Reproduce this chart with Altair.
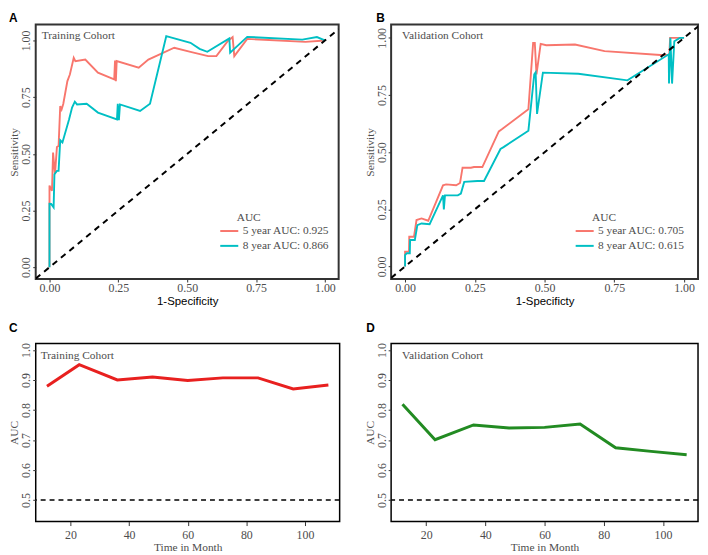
import altair as alt
import pandas as pd

# ---------------- data ----------------
# Panel A (training cohort ROC)
a5_x = [0, 0, 0.009, 0.013, 0.02, 0.027, 0.033, 0.039, 0.044, 0.05, 0.065, 0.074, 0.088, 0.094, 0.13, 0.176,
        0.235, 0.238, 0.241, 0.244, 0.324, 0.359, 0.453, 0.512, 0.576, 0.606, 0.647, 0.665, 0.671, 0.718, 0.929, 1.0]
a5_y = [0, 0.36, 0.337, 0.506, 0.41, 0.53, 0.535, 0.711, 0.696, 0.72, 0.821, 0.85, 0.924, 0.909, 0.916, 0.858,
        0.828, 0.912, 0.82, 0.909, 0.88, 0.916, 0.968, 0.95, 0.931, 0.931, 0.997, 1.015, 0.931, 1.007, 0.994, 1.0]
a8_x = [0, 0, 0.006, 0.015, 0.018, 0.027, 0.033, 0.039, 0.047, 0.071, 0.082, 0.092, 0.1, 0.135, 0.176, 0.245,
        0.248, 0.252, 0.256, 0.329, 0.365, 0.424, 0.512, 0.545, 0.573, 0.653, 0.656, 0.662, 0.718, 0.918, 0.971, 1.0]
a8_y = [0, 0.28, 0.279, 0.264, 0.41, 0.425, 0.425, 0.56, 0.55, 0.652, 0.704, 0.73, 0.718, 0.721, 0.682, 0.652,
        0.721, 0.648, 0.718, 0.689, 0.721, 1.019, 0.99, 0.963, 0.95, 1.009, 0.946, 0.953, 1.016, 1.004, 1.015, 1.0]
a_labels = ["5 year AUC: 0.925", "8 year AUC: 0.866"]

# Panel B (validation cohort ROC)
b5_x = [0, 0, 0.014, 0.015, 0.032, 0.041, 0.059, 0.083, 0.136, 0.147, 0.183, 0.197, 0.206, 0.236, 0.247, 0.277,
        0.336, 0.348, 0.442, 0.459, 0.465, 0.471, 0.486, 0.506, 0.609, 0.715, 0.915, 0.947, 0.95, 0.975, 1.0]
b5_y = [0, 0.065, 0.065, 0.13, 0.13, 0.203, 0.21, 0.2, 0.355, 0.359, 0.355, 0.365, 0.432, 0.432, 0.435, 0.435,
        0.591, 0.601, 0.688, 0.978, 0.978, 0.84, 0.974, 0.968, 0.971, 0.942, 0.925, 0.925, 1.0, 1.0, 1.0]
b8_x = [0, 0, 0.006, 0.017, 0.018, 0.035, 0.044, 0.059, 0.088, 0.136, 0.139, 0.143, 0.189, 0.2, 0.212, 0.259,
        0.283, 0.342, 0.353, 0.442, 0.463, 0.468, 0.473, 0.494, 0.621, 0.797, 0.945, 0.946, 0.951, 0.957, 0.965,
        0.985, 1.0]
b8_y = [0, 0.05, 0.058, 0.058, 0.116, 0.116, 0.181, 0.188, 0.185, 0.311, 0.249, 0.311, 0.311, 0.319, 0.37, 0.374,
        0.374, 0.514, 0.522, 0.594, 0.84, 0.849, 0.667, 0.848, 0.843, 0.814, 0.928, 0.80, 1.0, 0.80, 0.985,
        1.0, 1.0]
b_labels = ["5 year AUC: 0.705", "8 year AUC: 0.615"]

diag = [-0.05, 1.05]
roc_ticks = [0, 0.25, 0.5, 0.75, 1.0]

# Panels C / D (time-dependent AUC)
times = [12, 23, 36, 48, 60, 72, 84, 96, 108]
c_auc = [0.879, 0.951, 0.90, 0.91, 0.898, 0.907, 0.907, 0.87, 0.883]
d_auc = [0.819, 0.701, 0.75, 0.74, 0.742, 0.753, 0.674, 0.662, 0.651]
time_ticks = [20, 40, 60, 80, 100]
auc_ticks = [0.5, 0.6, 0.7, 0.8, 0.9, 1.0]

# ---------------- style ----------------
SERIF = "Liberation Serif"
SANS = "Liberation Sans"
GRAY = "#4D4D4D"
RED = "#F8766D"
CYAN = "#00BFC4"


def roc_panel(letter, title_dx, cohort, text_x, x5, y5, x8, y8, labels, xtitle, ydom, width):
    df = pd.concat([
        pd.DataFrame({"fpr": x5, "tpr": y5, "curve": labels[0], "ord": list(range(len(x5)))}),
        pd.DataFrame({"fpr": x8, "tpr": y8, "curve": labels[1], "ord": list(range(len(x8)))}),
    ])
    xsc = alt.Scale(domain=[-0.05, 1.05], nice=False, zero=False)
    ysc = alt.Scale(domain=ydom, nice=False, zero=False)
    lines = alt.Chart(df).mark_line(strokeWidth=1.9, clip=True).encode(
        x=alt.X("fpr:Q", scale=xsc,
                axis=alt.Axis(values=roc_ticks, format=".2f", title=xtitle, titleFont=SANS,
                              titleColor="black", titleFontSize=11.5, titlePadding=2, labelPadding=1)),
        y=alt.Y("tpr:Q", scale=ysc,
                axis=alt.Axis(values=roc_ticks, format=".2f", title="Sensitivity", labelAngle=270,
                              labelAlign="center", labelBaseline="bottom", labelPadding=0, titlePadding=0,
                              labelOverlap=False)),
        color=alt.Color("curve:N", scale=alt.Scale(domain=labels, range=[RED, CYAN]),
                        legend=alt.Legend(title=None, orient="none", legendX=188, legendY=201,
                                          symbolType="M-1.4,0L1.4,0", symbolStrokeWidth=2, symbolSize=169,
                                          labelFont=SERIF, labelFontSize=11.5,
                                          labelColor=GRAY, rowPadding=2, labelOffset=6)),
        order="ord:Q",
    )
    dline = alt.Chart(pd.DataFrame({"fpr": diag, "tpr": diag})).mark_line(
        color="black", strokeDash=[6, 5], strokeWidth=2, clip=True).encode(x="fpr:Q", y="tpr:Q")
    txt = alt.Chart(pd.DataFrame({"t": [cohort]})).mark_text(
        align="left", baseline="middle", font=SERIF, fontSize=11.5, color=GRAY).encode(
        text="t:N", x=alt.value(text_x), y=alt.value(12))
    leg_title = alt.Chart(pd.DataFrame({"t": ["AUC"]})).mark_text(
        align="left", baseline="middle", font=SERIF, fontSize=11.5, color=GRAY).encode(
        text="t:N", x=alt.value(203), y=alt.value(195))
    return alt.layer(lines, dline, txt, leg_title).properties(
        width=width, height=257,
        title=alt.TitleParams(letter, anchor="start", dx=title_dx, offset=0, font=SANS,
                              fontWeight="bold", fontSize=12, color="black"),
        view=alt.ViewBackground(stroke="#333333", strokeWidth=2),
    )


def auc_panel(letter, title_dx, cohort, text_x, vals, color, width):
    df = pd.DataFrame({"time": times, "auc": vals})
    yenc = alt.Y("auc:Q", scale=alt.Scale(domain=[0.428, 1.022], nice=False, zero=False),
                 axis=alt.Axis(values=auc_ticks, format=".1f", title="AUC", labelAngle=270,
                               labelAlign="center", labelBaseline="bottom", labelPadding=0,
                               titlePadding=0, labelOverlap=False))
    line = alt.Chart(df).mark_line(color=color, strokeWidth=3).encode(
        x=alt.X("time:Q", scale=alt.Scale(domain=[8.16, 111.84], nice=False, zero=False),
                axis=alt.Axis(values=time_ticks, title="Time in Month", tickSize=4, titlePadding=1,
                              labelPadding=4)),
        y=yenc,
    )
    ref = alt.Chart(pd.DataFrame({"auc": [0.5]})).mark_rule(
        color="black", strokeDash=[5, 4], strokeWidth=1.5).encode(y=yenc)
    txt = alt.Chart(pd.DataFrame({"t": [cohort]})).mark_text(
        align="left", baseline="middle", font=SERIF, fontSize=11.5, color=GRAY).encode(
        text="t:N", x=alt.value(text_x), y=alt.value(13))
    return alt.layer(line, ref, txt).properties(
        width=width, height=180,
        title=alt.TitleParams(letter, anchor="start", dx=title_dx, offset=8, font=SANS,
                              fontWeight="bold", fontSize=12, color="black"),
        view=alt.ViewBackground(stroke="black", strokeWidth=1.5),
    )


pa = roc_panel("A", 0, "Training Cohort", 6, a5_x, a5_y, a8_x, a8_y, a_labels, "1-Specificity",
               [-0.052, 1.07], 306)
pb = roc_panel("B", 12, "Validation Cohort", 11, b5_x, b5_y, b8_x, b8_y, b_labels, "1-Specificty",
               [-0.055, 1.058], 310)
pc = auc_panel("C", 0, "Training Cohort", 5, c_auc, "#E8201F", 307)
pd_ = auc_panel("D", 2, "Validation Cohort", 11, d_auc, "#228B22", 310)

chart = alt.concat(pa, pb, pc, pd_, columns=2, spacing={"row": 65, "column": 52}, bounds="flush").resolve_scale(
    x="independent", y="independent", color="independent").resolve_legend(color="independent").properties(
    padding=0
).configure_axis(
    grid=False, domain=False, labelFont=SERIF, titleFont=SERIF, labelFontSize=12, titleFontSize=11.5,
    labelColor=GRAY, titleColor=GRAY, titleFontWeight="normal", tickColor="#333333", tickSize=3
).configure_view(stroke="#333333", strokeWidth=2)

chart.save("out.html", embed_options={"renderer": "svg", "actions": False})
